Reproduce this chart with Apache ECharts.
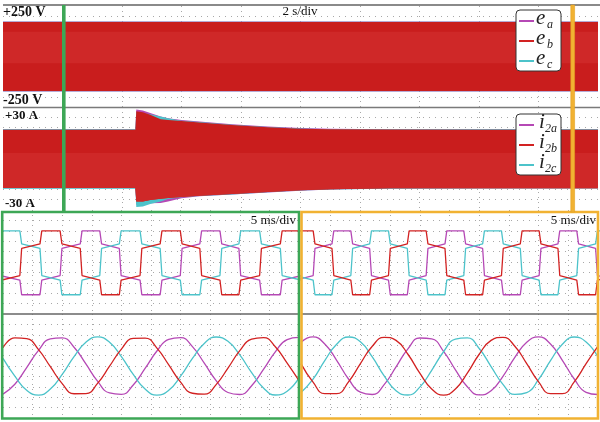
<!DOCTYPE html>
<html><head><meta charset="utf-8">
<script src="https://cdn.jsdelivr.net/npm/echarts@6/dist/echarts.min.js"></script>
<style>html,body{margin:0;padding:0;background:#fff}#c{width:600px;height:422px}</style>
</head><body><div id="c"></div>
<script>
// ---------- DATA ----------
// top panel: voltage envelope (time in s, volts)
const vTime = [0, 5, 10, 15, 20];
const vHiB = [171, 171, 171, 171, 171];
const vLoB = [-171, -171, -171, -171, -171];
const vHiA = [173, 173, 173, 173, 173];
const vLoA = [-173, -173, -173, -173, -173];
const vHiC = [172, 172, 172, 172, 172];
const vLoC = [-172, -172, -172, -172, -172];
const vMidHi = [123, 123, 123, 123, 123];   // lighter inner shade of the dense band
const vMidLo = [-34, -34, -34, -34, -34];
// current envelope (time in s, amperes)
const iTime = [0, 4.45, 4.48, 4.7, 4.95, 5.3, 5.55, 6.0, 6.6, 7.7, 8.9, 10, 11, 13, 16, 20];
const iHiB = [16.8, 16.8, 27.5, 27, 25.5, 22.8, 22.5, 21.8, 21, 19.5, 18.2, 17.4, 17.0, 16.9, 16.8, 16.8];
const iLoB = [-17.2, -17.2, -25, -25, -24.2, -23.5, -23, -22.4, -21.7, -20.7, -19.5, -18.5, -17.9, -17.4, -17.3, -17.3];
const iHiA = [17.0, 17.0, 28.5, 28, 26.5, 24.5, 23.5, 22.5, 21.6, 20.0, 18.7, 17.8, 17.3, 17.1, 17.0, 17.0];
const iLoA = [-17.4, -17.4, -27, -27, -26, -25.9, -25, -23.2, -22.0, -21.0, -19.8, -18.8, -18.1, -17.5, -17.4, -17.4];
const iHiC = [17.0, 17.0, 27, 26.5, 25.8, 24.5, 23.5, 22, 21.2, 19.7, 18.4, 17.5, 17.1, 17, 17, 17];
const iLoC = [-17.6, -17.6, -28.3, -28, -26.5, -25, -23.6, -22.6, -21.9, -20.9, -19.7, -18.7, -18.0, -17.6, -17.5, -17.5];
const iMidHi = [3.2, 3.2, 3.2, 3.2, 3.2, 3.2, 3.2, 3.2, 3.2, 3.2, 3.2, 3.2, 3.2, 3.2, 3.2, 3.2];

// zoomed current windows: segments [t0 ms, t1 ms, v0 div, v1 div]
const curL_b = [[-0.3,2.85,-1.75,-1.3],[3.15,6.25,1.3,1.75],[6.55,9.65,3.0,3.0],[9.95,13.05,1.75,1.3],[13.35,16.35,-1.3,-1.75],[16.65,19.65,-3.15,-3.15],[19.95,23.15,-1.75,-1.3],[23.45,26.55,1.3,1.75],[26.85,29.95,3.0,3.0],[30.25,33.25,1.75,1.3],[33.55,36.65,-1.3,-1.75],[36.95,39.85,-3.15,-3.15],[40.15,43.35,-1.75,-1.3],[43.65,46.85,1.3,1.75],[47.15,50.5,3.0,3.0]];
const curL_c = [[-0.5,2.85,3.0,3.0],[3.15,6.25,1.75,1.3],[6.55,9.65,-1.3,-1.75],[9.95,13.05,-3.15,-3.15],[13.35,16.35,-1.75,-1.3],[16.65,19.65,1.3,1.75],[19.95,23.15,3.0,3.0],[23.45,26.55,1.75,1.3],[26.85,29.95,-1.3,-1.75],[30.25,33.25,-3.15,-3.15],[33.55,36.65,-1.75,-1.3],[36.95,39.85,1.3,1.75],[40.15,43.35,3.0,3.0],[43.65,46.85,1.75,1.3],[47.15,50.5,-1.3,-1.75]];
const curL_a = [[-0.5,2.85,-1.3,-1.75],[3.15,6.25,-3.15,-3.15],[6.55,9.65,-1.75,-1.3],[9.95,13.05,1.3,1.75],[13.35,16.35,3.0,3.0],[16.65,19.65,1.75,1.3],[19.95,23.15,-1.3,-1.75],[23.45,26.55,-3.15,-3.15],[26.85,29.95,-1.75,-1.3],[30.25,33.25,1.3,1.75],[33.55,36.65,3.0,3.0],[36.95,39.85,1.75,1.3],[40.15,43.35,-1.3,-1.75],[43.65,46.85,-3.15,-3.15],[47.15,50.5,-1.75,-1.3]];
const curR_b = [[-1.0,2.05,3.0,3.0],[2.35,5.22,1.75,1.3],[5.52,8.39,-1.3,-1.75],[8.69,11.56,-3.15,-3.15],[11.86,14.73,-1.75,-1.3],[15.03,17.9,1.3,1.75],[18.2,21.07,3.0,3.0],[21.37,24.24,1.75,1.3],[24.54,27.41,-1.3,-1.75],[27.71,30.58,-3.15,-3.15],[30.88,33.75,-1.75,-1.3],[34.05,36.92,1.3,1.75],[37.22,40.09,3.0,3.0],[40.39,43.26,1.75,1.3],[43.56,46.43,-1.3,-1.75],[46.73,49.6,-3.15,-3.15],[49.9,52.9,-1.75,-1.3]];
const curR_a = [[-1.0,2.05,-1.75,-1.3],[2.35,5.22,1.3,1.75],[5.52,8.39,3.0,3.0],[8.69,11.56,1.75,1.3],[11.86,14.73,-1.3,-1.75],[15.03,17.9,-3.15,-3.15],[18.2,21.07,-1.75,-1.3],[21.37,24.24,1.3,1.75],[24.54,27.41,3.0,3.0],[27.71,30.58,1.75,1.3],[30.88,33.75,-1.3,-1.75],[34.05,36.92,-3.15,-3.15],[37.22,40.09,-1.75,-1.3],[40.39,43.26,1.3,1.75],[43.56,46.43,3.0,3.0],[46.73,49.6,1.75,1.3],[49.9,52.9,-1.3,-1.75]];
const curR_c = [[-1.0,2.05,-1.3,-1.75],[2.35,5.22,-3.15,-3.15],[5.52,8.39,-1.75,-1.3],[8.69,11.56,1.3,1.75],[11.86,14.73,3.0,3.0],[15.03,17.9,1.75,1.3],[18.2,21.07,-1.3,-1.75],[21.37,24.24,-3.15,-3.15],[24.54,27.41,-1.75,-1.3],[27.71,30.58,1.3,1.75],[30.88,33.75,3.0,3.0],[34.05,36.92,1.75,1.3],[37.22,40.09,-1.3,-1.75],[40.39,43.26,-3.15,-3.15],[43.56,46.43,-1.75,-1.3],[46.73,49.6,1.3,1.75],[49.9,52.9,3.0,3.0]];

// zoomed voltage windows (ms, div)
const sineT = [0,2,4,6,8,10,12,14,16,18,20,22,24,26,28,30,32,34,36,38,40,42,44,46,48,50];
const volL_b = [1.76,2.70,2.63,1.57,-0.07,-1.69,-2.67,-2.66,-1.65,-0.02,1.62,2.65,2.68,1.72,0.11,-1.55,-2.62,-2.71,-1.79,-0.20,1.47,2.58,2.73,1.85,0.28,-1.40];
const volL_a = [-2.70,-1.76,-0.15,1.51,2.60,2.71,1.80,0.20,-1.48,-2.59,-2.72,-1.83,-0.24,1.44,2.57,2.73,1.86,0.28,-1.40,-2.55,-2.74,-1.90,-0.33,1.36,2.54,2.75];
const volL_c = [0.73,-0.98,-2.33,-2.80,-2.22,-0.81,0.90,2.28,2.80,2.28,0.90,-0.81,-2.22,-2.80,-2.33,-0.98,0.73,2.17,2.79,2.37,1.06,-0.64,-2.11,-2.79,-2.42,-1.14];
const volR_b = [0.23,-1.53,-2.65,-2.65,-1.53,0.23,1.90,2.76,2.46,1.13,-0.69,-2.21,-2.80,-2.21,-0.69,1.13,2.46,2.76,1.90,0.23,-1.53,-2.65,-2.65,-1.53,0.23,1.90];
const volR_a = [2.29,2.80,2.12,0.55,-1.25,-2.52,-2.74,-1.79,-0.09,1.65,2.69,2.60,1.41,-0.37,-2.00,-2.78,-2.39,-0.99,0.82,2.29,2.80,2.12,0.55,-1.25,-2.53,-2.74];
const volR_c = [-2.55,-1.29,0.51,2.09,2.79,2.32,0.87,-0.95,-2.37,-2.79,-2.03,-0.41,1.37,2.58,2.70,1.68,-0.05,-1.76,-2.73,-2.55,-1.29,0.51,2.09,2.79,2.31,0.86];

// ---------- STYLE ----------
const MAG = '#b548b5', RED = '#d22222', CYA = '#4cc3ca', BAND = '#c91d1d', BAND2 = '#cf2828';
const GREEN = '#3da756', ORANGE = '#f1b232';
const SERIF = '"Liberation Serif","DejaVu Serif",serif';
const dotH = {show:true, showMinLine:false, showMaxLine:false, lineStyle:{color:'#a8a8a8', width:1, type:[1,5]}};
const dotV = {show:true, showMinLine:false, showMaxLine:false, lineStyle:{color:'#a8a8a8', width:1, type:[1,4]}};

const grids = [
  {left:3, top:6, width:595, height:101},
  {left:3, top:107, width:595, height:103},
  {left:3, top:210, width:296, height:104},
  {left:3, top:314, width:296, height:104},
  {left:301, top:210, width:297, height:104},
  {left:301, top:314, width:297, height:104}
];
const xr = [[0,20,2],[0,20,2],[0,50,5],[0,50,5],[0,50,5],[0,50,5]];
const yr = [[-250,250,50],[-30,30,6],[-5,5,1],[-5,5,1],[-5,5,1],[-5,5,1]];
const xAxis = xr.map((r,i)=>({type:'value', gridIndex:i, min:r[0], max:r[1], interval:r[2],
  axisLine:{show:false}, axisTick:{show:false}, axisLabel:{show:false}, splitLine:dotV}));
const yAxis = yr.map((r,i)=>({type:'value', gridIndex:i, min:r[0], max:r[1], interval:r[2],
  axisLine:{show:false}, axisTick:{show:false}, axisLabel:{show:false}, splitLine:dotH}));

function band(gi, t, hi, lo, color, z){
  return {type:'custom', xAxisIndex:gi, yAxisIndex:gi, clip:true, z:z, silent:true,
    data: t.map((x,i)=>[x, hi[i], lo[i]]),
    encode:{x:0, y:[1,2]},
    renderItem:(params, api)=>{
      if (params.dataIndex !== 0) return null;
      const top = t.map((x,i)=>api.coord([x, hi[i]]));
      const bot = t.map((x,i)=>api.coord([x, lo[i]])).reverse();
      return {type:'polygon', shape:{points: top.concat(bot)}, style:{fill: color}};
    }};
}
function segLine(gi, segs, color, z){
  const d = [];
  segs.forEach(s=>{ d.push([s[0], s[2]]); d.push([s[1], s[3]]); });
  return {type:'line', xAxisIndex:gi, yAxisIndex:gi, data:d, showSymbol:false, symbol:'none', z:z,
    lineStyle:{color:color, width:1.3}, silent:true, animation:false};
}
function sineLine(gi, vals, color, z){
  return {type:'line', xAxisIndex:gi, yAxisIndex:gi, data:sineT.map((t,i)=>[t, vals[i]]), smooth:0.5,
    symbol:'none', z:z, lineStyle:{color:color, width:1.3}, silent:true, animation:false};
}

const series = [
  band(0, vTime, vHiA, vLoA, MAG, 2), band(0, vTime, vHiC, vLoC, CYA, 3), band(0, vTime, vHiB, vLoB, BAND, 4),
  band(0, vTime, vMidHi, vMidLo, BAND2, 5),
  band(1, iTime, iHiA, iLoA, MAG, 2), band(1, iTime, iHiC, iLoC, CYA, 3), band(1, iTime, iHiB, iLoB, BAND, 4),
  band(1, iTime, iMidHi, iLoB, BAND2, 5),
  segLine(2, curL_a, MAG, 2), segLine(2, curL_c, CYA, 3), segLine(2, curL_b, RED, 4),
  sineLine(3, volL_a, MAG, 2), sineLine(3, volL_c, CYA, 3), sineLine(3, volL_b, RED, 4),
  segLine(4, curR_a, MAG, 2), segLine(4, curR_c, CYA, 3), segLine(4, curR_b, RED, 4),
  sineLine(5, volR_a, MAG, 2), sineLine(5, volR_c, CYA, 3), sineLine(5, volR_b, RED, 4)
];

// ---------- GRAPHICS ----------
function txt(x, y, s, font, align){
  return {type:'text', x:x, y:y, z:100, silent:true,
    style:{text:s, font:font, fill:'#111', verticalAlign:'middle', align:align||'left'}};
}
function legend(x, y, main, subs, mainDx, subDx){
  const els = [{type:'rect', shape:{x:x, y:y, width:45, height:61, r:4}, z:100,
    style:{fill:'#fff', stroke:'#333', lineWidth:1}}];
  const cols = [MAG, RED, CYA];
  for (let k=0;k<3;k++){
    const cy = y + 11 + k*20;
    els.push({type:'line', z:101, shape:{x1:x+3, y1:cy, x2:x+18, y2:cy}, style:{stroke:cols[k], lineWidth:2}});
    els.push({type:'text', z:101, x:x+mainDx, y:cy-3, style:{text:main, font:'italic 21px '+SERIF, fill:'#222', verticalAlign:'middle'}});
    els.push({type:'text', z:101, x:x+subDx, y:cy+4, style:{text:subs[k], font:'italic 12px '+SERIF, fill:'#222', verticalAlign:'middle'}});
  }
  return els;
}
const graphics = [
  {type:'line', z:90, shape:{x1:3, y1:5, x2:600, y2:5}, style:{stroke:'#8a8a8a', lineWidth:2}},
  {type:'line', z:90, shape:{x1:3, y1:107.5, x2:600, y2:107.5}, style:{stroke:'#7a7a7a', lineWidth:1.5}},
  {type:'line', z:90, shape:{x1:3, y1:314, x2:298, y2:314}, style:{stroke:'#666', lineWidth:1.5}},
  {type:'line', z:90, shape:{x1:302, y1:314, x2:597, y2:314}, style:{stroke:'#666', lineWidth:1.5}},
  {type:'rect', z:95, shape:{x:2.2, y:212, width:296.8, height:206.5}, style:{fill:'none', stroke:GREEN, lineWidth:2.6}},
  {type:'rect', z:95, shape:{x:301.5, y:212, width:296.5, height:206.5}, style:{fill:'none', stroke:ORANGE, lineWidth:2.6}},
  {type:'rect', z:96, shape:{x:62, y:5, width:3.6, height:207}, style:{fill:GREEN}},
  {type:'rect', z:96, shape:{x:570.8, y:5, width:3.8, height:207}, style:{fill:ORANGE, stroke:'#e2a020', lineWidth:0.6}},
  txt(3, 12.5, '+250 V', 'bold 14px '+SERIF),
  txt(3, 100.5, '-250 V', 'bold 14px '+SERIF),
  txt(5, 115.5, '+30 A', 'bold 13px '+SERIF),
  txt(5, 204, '-30 A', 'bold 13px '+SERIF),
  txt(300, 12, '2 s/div', '13px '+SERIF, 'center'),
  txt(296, 221, '5 ms/div', '13px '+SERIF, 'right'),
  txt(596, 221, '5 ms/div', '13px '+SERIF, 'right')
].concat(legend(516, 10, 'e', ['a','b','c'], 20, 31)).concat(legend(516, 114, 'i', ['2a','2b','2c'], 23, 29));

const chart = echarts.init(document.getElementById('c'), null, {renderer:'canvas'});
chart.setOption({
  animation:false, backgroundColor:'#fff',
  grid: grids, xAxis: xAxis, yAxis: yAxis, series: series, graphic: graphics
});
</script></body></html>
